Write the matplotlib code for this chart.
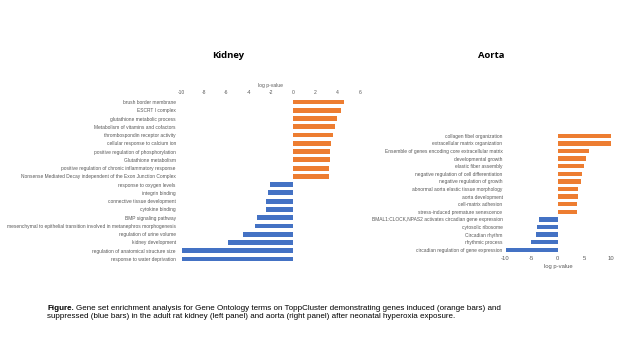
import matplotlib
matplotlib.use('Agg')
import matplotlib.pyplot as plt

# kidney data (log p-value)
kidney_terms = ['brush border membrane', 'ESCRT I complex', 'glutathione metabolic process',
                'Metabolism of vitamins and cofactors', 'thrombospondin receptor activity',
                'cellular response to calcium ion', 'positive regulation of phosphorylation',
                'Glutathione metabolism', 'positive regulation of chronic inflammatory response',
                'Nonsense Mediated Decay independent of the Exon Junction Complex',
                'response to oxygen levels', 'integrin binding', 'connective tissue development',
                'cytokine binding', 'BMP signaling pathway',
                'mesenchymal to epithelial transition involved in metanephros morphogenesis',
                'regulation of urine volume', 'kidney development',
                'regulation of anatomical structure size', 'response to water deprivation']
kidney_vals = [4.6, 4.3, 3.9, 3.75, 3.6, 3.4, 3.35, 3.3, 3.25, 3.2,
               -2.1, -2.3, -2.4, -2.4, -3.2, -3.4, -4.5, -5.85, -10.0, -10.0]

# aorta data (log p-value)
aorta_terms = ['collagen fibel organization', 'extracellular matrix organization',
               'Ensemble of genes encoding core extracellular matrix', 'developmental growth',
               'elastic fiber assembly', 'negative regulation of cell differentiation',
               'negative regulation of growth', 'abnormal aorta elastic tissue morphology',
               'aorta development', 'cell-matrix adhesion', 'stress-induced premature senescence',
               'BMAL1:CLOCK,NPAS2 activates circadian gene expression', 'cytosolic ribosome',
               'Circadian rhythm', 'rhythmic process', 'circadian regulation of gene expression']
aorta_vals = [10.0, 10.0, 5.8, 5.4, 5.0, 4.5, 4.3, 3.9, 3.8, 3.6, 3.6,
              -3.5, -3.9, -4.1, -5.1, -9.9]

orange = '#ED7D31'
blue = '#4472C4'
grey = '#595959'
plt.rcParams['font.family'] = ['Liberation Sans', 'DejaVu Sans']
plt.rcParams['axes.unicode_minus'] = False

W, H = 640, 360
fig = plt.figure(figsize=(6.4, 3.6), dpi=100)

def panel(rect, terms, vals, xlim, ticks, top, pad):
    ax = fig.add_axes(rect)
    n = len(terms)
    ypos = list(range(n))
    cols = [orange if v > 0 else blue for v in vals]
    ax.barh(ypos, vals, height=0.58, color=cols)
    ax.set_ylim(n - 0.5, -0.5)
    ax.set_xlim(*xlim)
    ax.set_xticks(ticks)
    ax.set_yticks(ypos)
    ax.set_yticklabels(terms, fontsize=3.5, color=grey)
    ax.tick_params(axis='y', length=0, pad=pad)
    ax.tick_params(axis='x', length=0, labelsize=3.6, labelcolor=grey, pad=2)
    for s in ax.spines.values():
        s.set_visible(False)
    if top:
        ax.xaxis.tick_top()
        ax.xaxis.set_label_position('top')
    return ax

# kidney panel
kx0, kx1 = 181.7, 360.0
ky0, ky1 = 97.9, 263.1
ax1 = panel([kx0 / W, 1 - ky1 / H, (kx1 - kx0) / W, (ky1 - ky0) / H],
            kidney_terms, kidney_vals, (-10, 6), range(-10, 7, 2), True, 4.2)
ax1.set_xlabel('log p-value', fontsize=3.6, color=grey, labelpad=2)

# aorta panel
ax0, ax1r = 505.0, 610.7
ay0, ay1 = 132.1, 253.6
ax2 = panel([ax0 / W, 1 - ay1 / H, (ax1r - ax0) / W, (ay1 - ay0) / H],
            aorta_terms, aorta_vals, (-10, 10), [-10, -5, 0, 5, 10], False, 1.8)
ax2.tick_params(axis='x', labelsize=4.2)
ax2.set_xlabel('log p-value', fontsize=4.2, color=grey, labelpad=2)

fig.text(228 / W, 1 - 56 / H, 'Kidney', fontsize=6.8, fontweight='bold',
         family=['Open Sans', 'DejaVu Sans'], ha='center', va='center')
fig.text(491 / W, 1 - 56 / H, 'Aorta', fontsize=6.8, fontweight='bold',
         family=['Open Sans', 'DejaVu Sans'], ha='center', va='center')

# caption
cap_fs = 5.75
t = fig.text(47 / W, 1 - 309 / H, 'Figure.', fontsize=cap_fs, fontweight='bold', va='center')
fig.canvas.draw()
bb = t.get_window_extent()
fig.text((bb.x1 + 2) / W, 1 - 309 / H,
         'Gene set enrichment analysis for Gene Ontology terms on ToppCluster demonstrating genes induced (orange bars) and',
         fontsize=cap_fs, va='center')
fig.text(47 / W, 1 - 316.5 / H,
         'suppressed (blue bars) in the adult rat kidney (left panel) and aorta (right panel) after neonatal hyperoxia exposure.',
         fontsize=cap_fs, va='center')

fig.savefig('out.png', dpi=100)
